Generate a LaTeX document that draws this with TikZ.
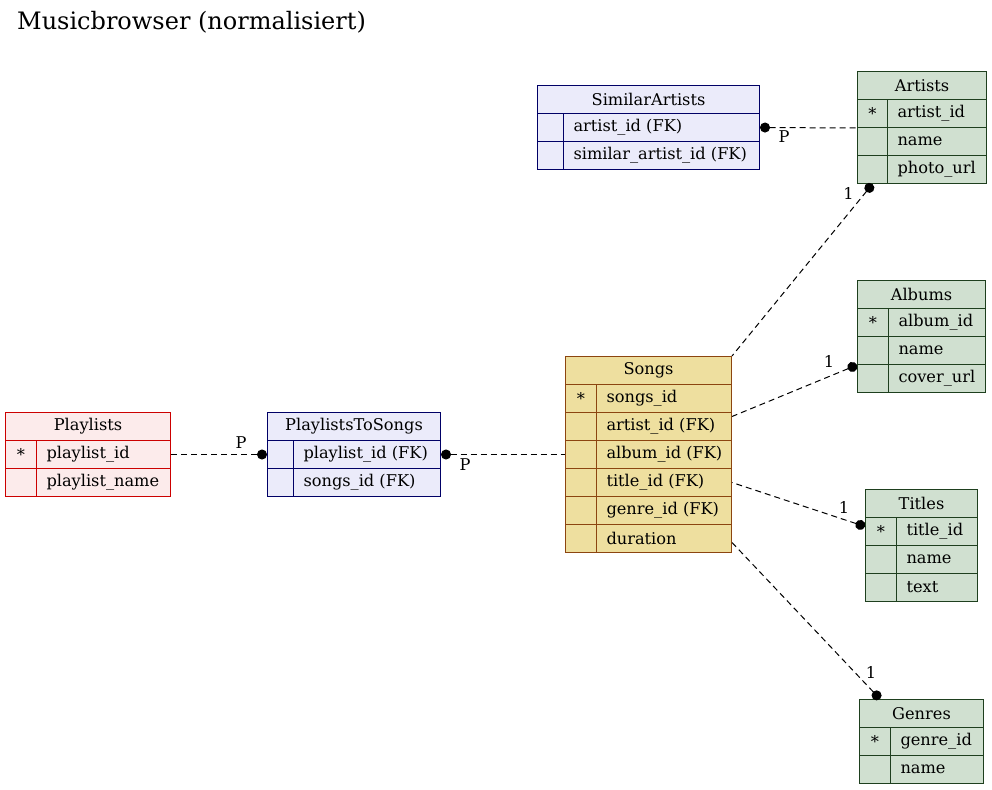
\documentclass[tikz,border=0pt]{standalone}
\usepackage{fontspec}
\setmainfont{DejaVu Serif}
\usetikzlibrary{arrows.meta,calc}
\definecolor{pinkf}{HTML}{FCEBEB}
\definecolor{pinkd}{HTML}{CC0000}
\definecolor{lavf}{HTML}{EBEBFA}
\definecolor{lavd}{HTML}{000066}
\definecolor{khakf}{HTML}{EEDF9F}
\definecolor{khakd}{HTML}{8C4510}
\definecolor{grnf}{HTML}{D0E0D0}
\definecolor{grnd}{HTML}{1E3F1E}
\tikzset{
  x=1pt, y=-1pt,
  cell/.style={draw, line width=1pt, minimum height=28pt, inner sep=0pt,
    font=\fontsize{16.2}{18}\selectfont, anchor=north west},
  pinkt/.style={fill=pinkf, draw=pinkd},
  lavt/.style={fill=lavf, draw=lavd},
  khakt/.style={fill=khakf, draw=khakd},
  grnt/.style={fill=grnf, draw=grnd},
  rel/.style={line width=1pt, dash pattern=on 6pt off 4pt},
  ball/.tip={Circle[length=10pt,width=10pt]},
  lbl/.style={font=\fontsize{16.2}{18}\selectfont, inner sep=0pt},
}
\newcommand\erdtable[8]{%
  \node[cell,#2,minimum width=#5pt] (#1) at (#3,#4) {#7};
  \foreach \k/\f [count=\i] in {#8} {
    \node[cell,#2,minimum width=#6pt] (#1-k\i) at (#3,{#4+28*\i}) {\k};
    \pgfmathsetmacro\tw{#5-#6-20}
    \node[cell,#2,inner xsep=10pt] (#1-\i) at ({#3+#6},{#4+28*\i}) {\makebox[\tw pt][l]{\f}};
  }
}
\begin{document}
\begin{tikzpicture}
\useasboundingbox (0,0) rectangle (992,789);
\node[anchor=base west, font=\fontsize{24}{28}\selectfont, inner sep=0pt] (title) at (17,30) {Musicbrowser (normalisiert)};

\erdtable{sa}{lavt}{537}{85}{222}{26}{SimilarArtists}{{}/artist\_id (FK), {}/similar\_artist\_id (FK)}
\erdtable{artists}{grnt}{857}{71}{129}{30}{Artists}{*/artist\_id, {}/name, {}/photo\_url}
\erdtable{albums}{grnt}{857}{280}{128}{31}{Albums}{*/album\_id, {}/name, {}/cover\_url}
\erdtable{songs}{khakt}{565}{356}{166}{31}{Songs}{*/songs\_id, {}/artist\_id (FK), {}/album\_id (FK), {}/title\_id (FK), {}/genre\_id (FK), {}/duration}
\erdtable{playlists}{pinkt}{5}{412}{165}{31}{Playlists}{*/playlist\_id, {}/playlist\_name}
\erdtable{pts}{lavt}{267}{412}{173}{26}{PlaylistsToSongs}{{}/playlist\_id (FK), {}/songs\_id (FK)}
\erdtable{titles}{grnt}{865}{489}{112}{31}{Titles}{*/title\_id, {}/name, {}/text}
\erdtable{genres}{grnt}{859}{699}{124}{31}{Genres}{*/genre\_id, {}/name}

\draw[rel, ball-] (sa-1.east) -- (artists-k1.south west)
  node[lbl, at start, xshift=24pt, yshift=-9pt] {P};
\draw[rel, ball-] (artists-k3.south) -- (songs.north east)
  node[lbl, at start, xshift=-24pt, yshift=-9pt] {1};
\draw[rel, ball-] ($(albums-k3.north west)+(0,1)$) -- ($(songs-2.east)+(0,-10)$)
  node[lbl, at start, xshift=-28pt, yshift=4pt] {1};
\draw[rel, ball-] ($(titles-k1.west)+(0,-5)$) -- (songs-4.east)
  node[lbl, at start, xshift=-21pt, yshift=19pt] {1};
\draw[rel, ball-] ($(genres.north west)+(21,0)$) -- ($(songs-6.east)+(0,4)$)
  node[lbl, at start, xshift=-9pt, yshift=27pt] {1};
\draw[rel, -ball] (playlists-1.east) -- (pts-k1.west)
  node[lbl, at end, xshift=-26pt, yshift=12pt] {P};
\draw[rel, ball-] (pts-1.east) -- (songs-k3.west)
  node[lbl, at start, xshift=24pt, yshift=-10pt] {P};
\end{tikzpicture}
\end{document}
